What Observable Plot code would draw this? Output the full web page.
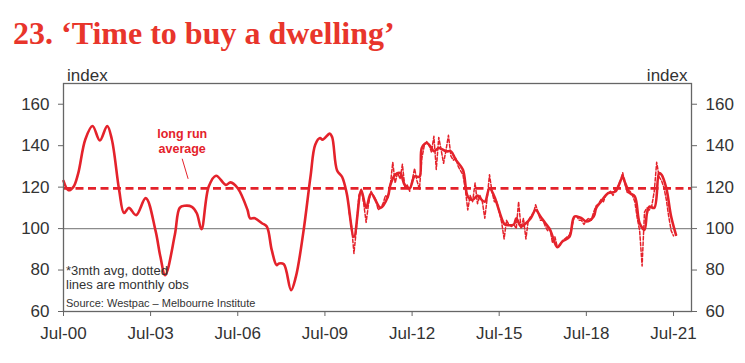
<!DOCTYPE html>
<html><head><meta charset="utf-8">
<script src="https://cdn.jsdelivr.net/npm/d3@7"></script>
<script src="https://cdn.jsdelivr.net/npm/@observablehq/plot@0.6"></script>
<style>
body{margin:0;background:#fff;}
#wrap{position:relative;width:745px;height:363px;overflow:hidden;background:#fff;}
#title{position:absolute;left:13px;top:17px;font-family:"Liberation Serif",serif;font-weight:bold;font-size:32px;line-height:32px;color:#e8352b;white-space:nowrap;}
#chart{position:absolute;left:0;top:60px;}
</style></head><body>
<div id="wrap"><div id="title">23. ‘Time to buy a dwelling’</div><div id="chart"></div></div>
<script>
const RED = "#e4222b";
const yTicks = [60, 80, 100, 120, 140, 160];
const xTickMonths = ["2000-07","2003-07","2006-07","2009-07","2012-07","2015-07","2018-07","2021-07"];
const longRunAverage = 119.4;

// 3-month average (solid line)
const avgDates = ["2000-07","2000-09","2000-11","2001-01","2001-04","2001-07","2001-10","2002-01","2002-03","2002-06","2002-08","2002-10","2003-01","2003-05","2003-09","2003-11","2004-01","2004-05","2004-07","2004-09","2004-12","2005-02","2005-04","2005-07","2005-10","2006-02","2006-04","2006-07","2006-11","2006-12","2007-02","2007-05","2007-07","2007-09","2007-11","2007-12","2008-02","2008-05","2008-07","2008-10","2009-01","2009-03","2009-05","2009-06","2009-09","2009-10","2009-12","2010-02","2010-04","2010-07","2010-10","2010-12","2011-02","2011-06","2011-09","2011-10","2011-12","2012-02","2012-04","2012-06","2012-08","2012-10","2012-11","2013-01","2013-03","2013-04","2013-06","2013-09","2013-11","2014-01","2014-04","2014-06","2014-08","2014-10","2014-11","2015-01","2015-03","2015-05","2015-09","2015-10","2016-01","2016-02","2016-04","2016-06","2016-08","2016-10","2016-12","2017-02","2017-04","2017-07","2017-09","2017-12","2018-02","2018-05","2018-07","2018-10","2018-11","2019-01","2019-04","2019-07","2019-10","2019-11","2020-01","2020-03","2020-05","2020-07","2020-08","2020-09","2020-11","2021-01","2021-02","2021-04","2021-06","2021-08"];
const avgValues = [123,118.5,120,126.5,143,149.5,142.5,149.5,143,118.5,107.5,110,106.5,114.7,99,86.5,77.5,97,110,111,110.5,107.4,99.7,120.3,125.5,121.1,122.3,119.5,109,105,105,102.6,101,89.7,82.4,83.2,82.8,70.3,76.8,97.8,125.2,140.5,143.7,142.9,145.8,144,128,125,117,96,118.5,110,117,110,115.5,121,126,126.8,121,119.5,125.2,125,139,141.3,139,137.3,138.9,137.3,137.3,133.2,128.4,115.5,113.9,116,114.7,113,119.5,115.5,102.3,101.8,102,105,101,102.6,105,109,105.8,102.6,99.4,91,93.7,96.1,105.8,105,103.4,105.8,109.9,113,117.1,117.9,124.9,122,117.1,115.5,102.6,99.4,107.4,110.6,110,126.8,126,119.5,105.8,97];

// monthly observations (dotted line), from May 2010
const monthlyStart = "2010-05";
const monthlyValues = [108,101,88,100,116,119,112,103,112,118,116,114,109,110,112,116,115,121,132,122,127,124,131,120,121,118,123,129,123,119,134,140,142,140,137,144.5,128.5,144,138,131.5,138,145,135,133,134,130,128,126,119,109,116,113,122,112,116,113,105,115,126,118,113,113,108,103,95,104,102,101,102,100,113,100,105,95,104,106,107,111.5,108,104,104,101,99,100,93,96,91,92,94,95,96,97,101,106,106,104,104,102,104,105,104,108,111,112,114,113,116,117,118,116,119,120,123,127,121,117,118,116,113,105,99,82,108,110,109,111,118,132,125,123,120,114,106,99,96.5];

const parse = d3.utcParse("%Y-%m");
const avg = avgDates.map((d, i) => ({date: parse(d), value: avgValues[i]}));
const start = parse(monthlyStart);
const monthly = monthlyValues.map((v, i) => ({date: d3.utcMonth.offset(start, i), value: v}));
const xTicks = xTickMonths.map(parse);

const chart = Plot.plot({
  width: 745, height: 303,
  marginLeft: 63, marginRight: 54, marginTop: 23, marginBottom: 52,
  style: {fontFamily: "'Liberation Sans', Arial, sans-serif", fontSize: "17px", color: "#333", background: "#fff", overflow: "visible"},
  x: {type: "utc", domain: [parse("2000-07"), new Date(Date.UTC(2022, 1, 12))]},
  y: {domain: [60, 170]},
  marks: [
    Plot.ruleY([100], {stroke: "#8c8c8c", strokeWidth: 1.3}),
    Plot.ruleY([longRunAverage], {stroke: RED, strokeWidth: 2.6, strokeDasharray: "8,4.5"}),
    Plot.lineY(monthly, {x: "date", y: "value", stroke: RED, strokeWidth: 1.5, strokeDasharray: "3.5,2"}),
    Plot.lineY(avg, {x: "date", y: "value", stroke: RED, strokeWidth: 2.6, curve: "catmull-rom"}),
    Plot.frame({stroke: "#666", strokeWidth: 1.3}),
    Plot.axisX({ticks: xTicks, tickFormat: d3.utcFormat("%b-%y"), tickSize: 5, tickPadding: 10, stroke: "#666", fill: "#333", label: null}),
    Plot.axisY({ticks: yTicks, anchor: "left", tickSize: 5, tickPadding: 9, stroke: "#666", fill: "#333", label: null}),
    Plot.axisY({ticks: yTicks, anchor: "right", tickSize: 5, tickPadding: 9, stroke: "#666", fill: "#333", label: null}),
    Plot.text(["index"], {frameAnchor: "top-left", textAnchor: "start", lineAnchor: "bottom", dx: 3.5, dy: -3, fontSize: 17, fill: "#333"}),
    Plot.text(["index"], {frameAnchor: "top-right", textAnchor: "end", lineAnchor: "bottom", dx: -4, dy: -3, fontSize: 17, fill: "#333"}),
    Plot.text([{date: parse("2004-08"), value: 136.7}], {x: "date", y: "value", text: () => "long run\naverage", lineAnchor: "bottom", lineHeight: 1.2, fontSize: 12.5, fontWeight: "bold", fill: RED}),
    Plot.link([{x1: new Date(Date.UTC(2004, 7, 1)), y1: 133.7, x2: new Date(Date.UTC(2004, 9, 15)), y2: 124}], {x1: "x1", y1: "y1", x2: "x2", y2: "y2", stroke: RED, strokeWidth: 1}),
    Plot.text(["*3mth avg, dotted\nlines are monthly obs"], {frameAnchor: "bottom-left", textAnchor: "start", lineAnchor: "bottom", lineHeight: 1.05, dx: 2.5, dy: -23, fontSize: 13, fill: "#333"}),
    Plot.text(["Source: Westpac – Melbourne Institute"], {frameAnchor: "bottom-left", textAnchor: "start", lineAnchor: "bottom", dx: 2.5, dy: -4.5, fontSize: 11, fill: "#333"})
  ]
});
document.getElementById("chart").appendChild(chart);
</script>
</body></html>
